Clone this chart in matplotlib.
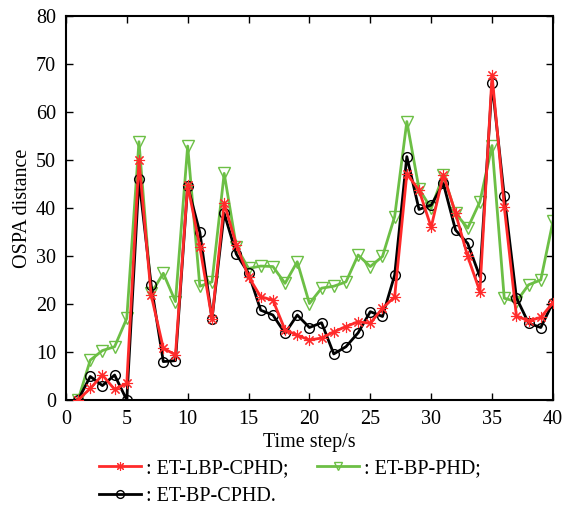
import numpy as np
import matplotlib.pyplot as plt

plt.rcParams['font.family'] = ['Liberation Serif', 'DejaVu Serif']

t = np.arange(1, 41)

# ET-LBP-CPHD
lbp_cphd = [0, 2.4, 5.2, 2.2, 3.5, 50.0, 21.9, 10.8, 9.4, 44.8,
            31.9, 16.9, 41.0, 32.3, 25.7, 21.5, 20.8, 14.6, 13.5, 12.5,
            12.9, 14.2, 15.3, 16.3, 16.0, 19.1, 21.5, 47.1, 43.7, 36.0,
            46.9, 38.9, 29.9, 22.6, 67.7, 40.3, 17.5, 16.5, 17.2, 20.3]
# ET-BP-PHD
bp_phd = [0, 8.3, 10.3, 11.1, 17.0, 53.8, 22.2, 26.4, 20.5, 52.9,
          23.7, 24.6, 47.2, 31.9, 27.4, 27.9, 27.8, 24.3, 28.8, 20.1,
          23.3, 23.7, 24.6, 30.2, 27.8, 29.9, 38.2, 58.0, 44.0, 39.9,
          46.9, 38.9, 35.8, 41.3, 53.0, 21.2, 20.5, 24.0, 25.0, 37.2]
# ET-BP-CPHD
bp_cphd = [0, 4.9, 3.0, 5.2, 0, 46.0, 24.0, 8.0, 8.2, 44.6,
           34.9, 16.9, 38.9, 30.4, 26.4, 18.7, 17.7, 13.9, 17.7, 15.1,
           16.1, 9.6, 11.1, 14.0, 18.4, 17.4, 26.0, 50.7, 39.7, 40.6,
           45.1, 35.4, 32.6, 25.7, 66.0, 42.5, 21.3, 16.0, 15.1, 20.3]

fig = plt.figure(figsize=(5.73, 5.08), dpi=100)
ax = fig.add_axes([0.115, 0.2126, 0.85, 0.756])

l_green, = ax.plot(t, bp_phd, color='#6cbf45', lw=2, marker='v', ms=8,
                   mfc='none', mec='#6cbf45', mew=1, zorder=2)
l_black, = ax.plot(t, bp_cphd, color='black', lw=2, marker='o', ms=7,
                   mfc='none', mec='black', mew=1, zorder=3)
l_red, = ax.plot(t, lbp_cphd, color='#ff2a2a', lw=2, marker=(8, 2, 0), ms=8,
                 mec='#ff2a2a', mew=0.8, zorder=4)

ax.set_xlim(0, 40)
ax.set_ylim(0, 80)
ax.set_xticks(np.arange(0, 41, 5))
ax.set_yticks(np.arange(0, 81, 10))
ax.tick_params(direction='in', top=True, right=True, labelsize=14.5, length=5, width=1, pad=7)
for s in ax.spines.values():
    s.set_linewidth(1.5)
ax.set_xlabel('Time step/s', fontsize=14.5, labelpad=3)
ax.set_ylabel('OSPA distance', fontsize=14.5, labelpad=3)

fig.legend([l_red, l_black, l_green],
           [': ET-LBP-CPHD;', ': ET-BP-CPHD.', ': ET-BP-PHD;'],
           ncol=2, loc='upper left', bbox_to_anchor=(0.172, 0.097),
           frameon=False, fontsize=14.5, handlelength=2.1, columnspacing=1.4,
           labelspacing=0.45, handletextpad=0.25, markerscale=0.8,
           borderaxespad=0, borderpad=0)

fig.savefig('out.png', dpi=100)
